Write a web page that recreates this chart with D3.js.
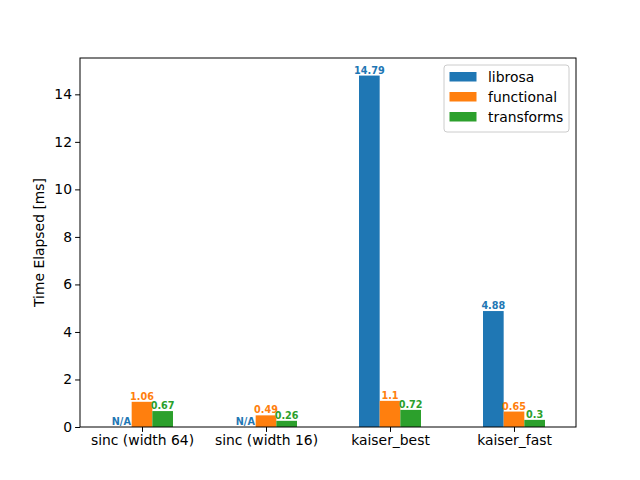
<!DOCTYPE html>
<html>
<head>
<meta charset="utf-8">
<script src="https://cdn.jsdelivr.net/npm/d3@7"></script>
<style>
  body { margin: 0; background: #fff; }
  text { font-family: "DejaVu Sans", sans-serif; }
</style>
</head>
<body>
<script>
'use strict'

// chart data
const categories = ['sinc (width 64)', 'sinc (width 16)', 'kaiser_best', 'kaiser_fast']
const seriesNames = ['librosa', 'functional', 'transforms']
const librosa = [null, null, 14.79, 4.88]
const functional = [1.06, 0.49, 1.1, 0.65]
const transforms = [0.67, 0.26, 0.72, 0.3]
const yTicks = [0, 2, 4, 6, 8, 10, 12, 14]
const colors = ['#1f77b4', '#ff7f0e', '#2ca02c']

const allSeries = [librosa, functional, transforms]

const W = 640, H = 480
const margin = { left: 80, right: 64, top: 58, bottom: 53 }
const iw = W - margin.left - margin.right
const ih = H - margin.top - margin.bottom
const fs = 13.9

const svg = d3.select('body').append('svg')
    .attr('width', W)
    .attr('height', H)

const g = svg.append('g').attr('transform', `translate(${margin.left},${margin.top})`)

// x is in category units like matplotlib, bars at i - w, i, i + w
const x = d3.scaleLinear().domain([-0.5, categories.length - 0.5]).range([0, iw])
const barW = 0.5 / seriesNames.length
const yMax = d3.max(allSeries.flat()) * 1.05
const y = d3.scaleLinear().domain([0, yMax]).range([ih, 0])

// bars + value labels
allSeries.forEach((vals, s) => {
    const off = (s - 1) * barW
    const grp = g.append('g')
    vals.forEach((v, i) => {
        const cx = x(i + off)
        if (v !== null) {
            grp.append('rect')
                .attr('x', x(i + off - barW / 2))
                .attr('width', x(barW) - x(0))
                .attr('y', y(v))
                .attr('height', y(0) - y(v))
                .attr('fill', colors[s])
        }
        grp.append('text')
            .attr('x', cx)
            .attr('y', y(v === null ? 0 : v) - 2)
            .attr('text-anchor', 'middle')
            .attr('font-size', 9.7)
            .attr('font-weight', 'bold')
            .attr('fill', colors[s])
            .text(v === null ? 'N/A' : v)
    })
})

// axes
const xAxis = d3.axisBottom(x)
    .tickValues(d3.range(categories.length))
    .tickFormat(i => categories[i])
    .tickSizeOuter(0)
    .tickSize(4.9)
const yAxis = d3.axisLeft(y)
    .tickValues(yTicks)
    .tickSizeOuter(0)
    .tickSize(4.9)

const gx = g.append('g').attr('transform', `translate(0,${ih})`).call(xAxis)
const gy = g.append('g').call(yAxis)
for (const a of [gx, gy]) {
    a.select('.domain').remove()
    a.selectAll('text').attr('font-size', fs).attr('fill', '#000')
        .style('font-family', '"DejaVu Sans", sans-serif')
    a.selectAll('line').attr('stroke', '#000').attr('stroke-width', 1)
}
gx.selectAll('text').attr('dy', '0.71em').attr('y', 8)
gy.selectAll('text').attr('x', -8)

// frame
g.append('rect')
    .attr('width', iw).attr('height', ih)
    .attr('fill', 'none').attr('stroke', '#000').attr('stroke-width', 1)

// y label
svg.append('text')
    .attr('transform', `translate(44,${margin.top + ih / 2}) rotate(-90)`)
    .attr('text-anchor', 'middle')
    .attr('font-size', fs)
    .text('Time Elapsed [ms]')

// legend
const lg = svg.append('g').attr('transform', 'translate(444,65)')
lg.append('rect')
    .attr('width', 125).attr('height', 67).attr('rx', 3)
    .attr('fill', '#fff').attr('fill-opacity', 0.8)
    .attr('stroke', '#ccc')
seriesNames.forEach((n, s) => {
    lg.append('rect')
        .attr('x', 5.5).attr('y', 7 + s * 20)
        .attr('width', 27).attr('height', 9.5)
        .attr('fill', colors[s])
    lg.append('text')
        .attr('x', 44).attr('y', 16.5 + s * 20)
        .attr('font-size', fs)
        .text(n)
})
</script>
</body>
</html>
